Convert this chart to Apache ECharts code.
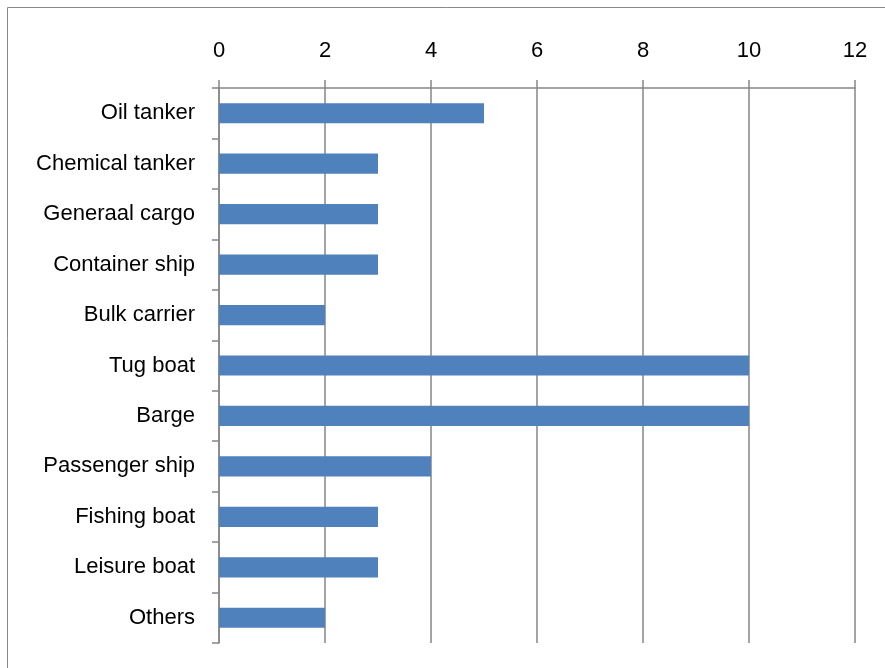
<!DOCTYPE html>
<html><head><meta charset="utf-8">
<script src="https://cdn.jsdelivr.net/npm/echarts@6/dist/echarts.min.js"></script>
<style>html,body{margin:0;padding:0;background:#fff}#c{width:885px;height:668px}</style>
</head><body><div id="c"></div>
<script>
const categories = ["Oil tanker","Chemical tanker","Generaal cargo","Container ship","Bulk carrier","Tug boat","Barge","Passenger ship","Fishing boat","Leisure boat","Others"];
const values = [5,3,3,3,2,10,10,4,3,3,2];
const xTicks = [0,2,4,6,8,10,12];

const chart = echarts.init(document.getElementById('c'));
const font = "Liberation Sans";
chart.setOption({
  animation:false,
  graphic:[{type:'rect',shape:{x:7.5,y:7.5,width:900,height:700},style:{fill:'none',stroke:'#888',lineWidth:1},silent:true}],
  grid:{left:219,top:88,right:30,bottom:25,containLabel:false},
  xAxis:{type:'value',position:'top',min:xTicks[0],max:xTicks[xTicks.length-1],interval:2,
    axisLine:{show:true,lineStyle:{color:'#868686',width:1.5}},
    axisTick:{show:true,inside:false,length:8,lineStyle:{color:'#868686',width:1.5}},
    splitLine:{show:true,lineStyle:{color:'#868686',width:1.5}},
    axisLabel:{color:'#000',fontFamily:font,fontSize:22,margin:26}},
  yAxis:{type:'category',data:categories,inverse:true,
    axisLine:{show:true,lineStyle:{color:'#868686',width:1.5}},
    axisTick:{show:true,length:7,lineStyle:{color:'#868686',width:1.5}},
    axisLabel:{color:'#000',fontFamily:font,fontSize:22,margin:24}},
  series:[{type:'bar',data:values,barWidth:'40%',itemStyle:{color:'#4F81BD'}}]
});
</script></body></html>
